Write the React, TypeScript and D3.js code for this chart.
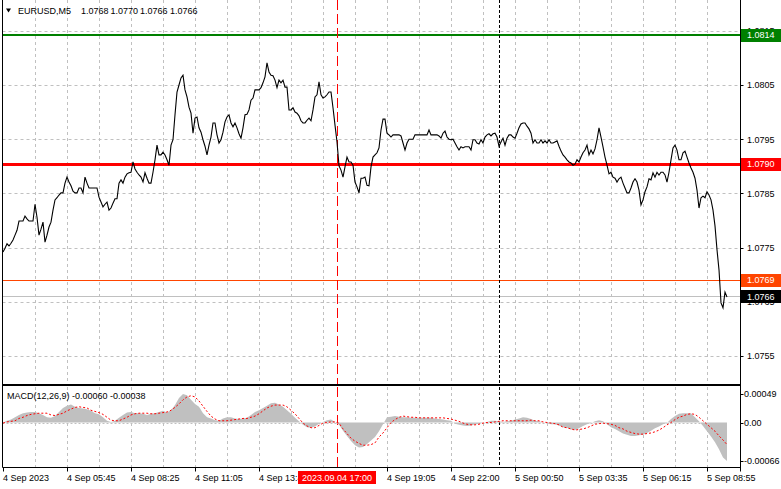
import React from "react";
import * as d3 from "d3";

// ---------- DATA ----------
const symbolTitle = "EURUSD,M5";
const headerOHLC = [1.0768, 1.077, 1.0766, 1.0766];

// close prices, one per M5 bar
const closes = [
  1.07742, 1.07749, 1.07757, 1.07753, 1.07758, 1.07764, 1.07773, 1.07782, 1.07799, 1.07799,
  1.07799, 1.07808, 1.07803, 1.07799, 1.07799, 1.07799, 1.0783, 1.07806, 1.07773, 1.07784,
  1.07797, 1.0776, 1.07773, 1.07788, 1.07797, 1.07819, 1.07838, 1.07842, 1.07847, 1.07851,
  1.07851, 1.07869, 1.0788, 1.07871, 1.07864, 1.07854, 1.07851, 1.07851, 1.0786, 1.0786,
  1.07851, 1.0788, 1.07869, 1.0786, 1.0786, 1.0786, 1.0786, 1.0786, 1.07843, 1.07834,
  1.07825, 1.0783, 1.07834, 1.07819, 1.07823, 1.07832, 1.0784, 1.0784, 1.07869, 1.07875,
  1.07869, 1.0788, 1.07886, 1.07888, 1.07889, 1.07908, 1.07895, 1.07889, 1.07884, 1.0788,
  1.07871, 1.07888, 1.07878, 1.07869, 1.07869, 1.07889, 1.07912, 1.07939, 1.07921, 1.07921,
  1.07926, 1.07921, 1.07912, 1.07902, 1.07939, 1.07949, 1.07995, 1.08037, 1.0805, 1.08063,
  1.08068, 1.08041, 1.08028, 1.08009, 1.07998, 1.07961, 1.07989, 1.07991, 1.07971, 1.07963,
  1.07949, 1.07937, 1.07921, 1.07939, 1.07954, 1.0798, 1.0798, 1.07958, 1.07943, 1.07949,
  1.07963, 1.07982, 1.07991, 1.07995, 1.0798, 1.07973, 1.0798, 1.07971, 1.0796, 1.07952,
  1.07971, 1.07995, 1.07996, 1.08004, 1.08022, 1.08026, 1.08041, 1.08041, 1.08041, 1.08045,
  1.08054, 1.08065, 1.08091, 1.08074, 1.08068, 1.08067, 1.08059, 1.08045, 1.08059, 1.08054,
  1.08059, 1.08046, 1.08046, 1.08004, 1.08004, 1.08008, 1.08, 1.07998, 1.07993, 1.07984,
  1.0798, 1.0798, 1.07985, 1.07989, 1.07984, 1.08004, 1.08028, 1.08032, 1.08056, 1.08032,
  1.08026, 1.08028, 1.08032, 1.08037, 1.08037, 1.08008, 1.07976, 1.07945, 1.07901, 1.07893,
  1.0788, 1.07899, 1.07917, 1.07908, 1.07908, 1.07902, 1.07871, 1.07862, 1.07851, 1.07878,
  1.07878, 1.0788, 1.07865, 1.07864, 1.07899, 1.07917, 1.07921, 1.07925, 1.07934, 1.07967,
  1.07987, 1.07987, 1.07961, 1.07958, 1.07954, 1.07958, 1.07958, 1.07958, 1.07958, 1.07956,
  1.07943, 1.0793, 1.07943, 1.0795, 1.0795, 1.0795, 1.07958, 1.07958, 1.07958, 1.07958,
  1.07958, 1.07958, 1.07958, 1.07967, 1.07958, 1.07958, 1.07958, 1.07958, 1.07956, 1.07952,
  1.07961, 1.07965, 1.07954, 1.0795, 1.07949, 1.0795, 1.07943, 1.07936, 1.0793, 1.07936,
  1.07934, 1.07936, 1.07936, 1.07936, 1.0793, 1.07949, 1.07949, 1.07943, 1.07941, 1.07949,
  1.07943, 1.07954, 1.07958, 1.0796, 1.07956, 1.0796, 1.07961, 1.07954, 1.07937, 1.07945,
  1.07952, 1.07939, 1.07952, 1.07958, 1.07958, 1.07954, 1.07952, 1.07961, 1.07971, 1.07978,
  1.0798, 1.0798, 1.07974, 1.07969, 1.07961, 1.07943, 1.07949, 1.07943, 1.07943, 1.07949,
  1.07943, 1.07947, 1.07943, 1.07949, 1.07943, 1.07943, 1.07945, 1.07947, 1.07937, 1.07928,
  1.07921, 1.07917, 1.07912, 1.07908, 1.07906, 1.07902, 1.07904, 1.07912, 1.07908, 1.07917,
  1.07925, 1.0793, 1.07939, 1.07921, 1.0793, 1.07923, 1.07932, 1.07949, 1.07971, 1.07954,
  1.07936, 1.07917, 1.07902, 1.07886, 1.07889, 1.0788, 1.07878, 1.07871, 1.07877, 1.0788,
  1.07869, 1.0786, 1.07851, 1.07851, 1.0786, 1.07871, 1.07877, 1.07871, 1.07856, 1.07829,
  1.07838, 1.07853, 1.07862, 1.07877, 1.07875, 1.07888, 1.0788, 1.07889, 1.07884, 1.07889,
  1.07889, 1.07884, 1.07871, 1.07889, 1.07912, 1.07934, 1.07939, 1.0793, 1.07912, 1.07912,
  1.07925, 1.07928, 1.07917, 1.07906, 1.07897, 1.07889, 1.07878, 1.07856, 1.07823, 1.07842,
  1.07845, 1.07842, 1.07853, 1.07847, 1.07838, 1.07819, 1.0779, 1.07746, 1.07709, 1.07648,
  1.07639, 1.07668, 1.07659,
];

// MACD(12,26,9), one value every 2 bars
const macdStep = 2;
const macdHist = [
  0.0, 0.00003, 0.00005, 0.00009, 0.00013, 0.00016, 0.00017, 0.00018, 0.00018, 0.00016,
  0.00013, 0.00009, 0.00008, 0.00011, 0.00018, 0.00025, 0.00029, 0.00031, 0.00027, 0.00025,
  0.00024, 0.00023, 0.0002, 0.00016, 0.00014, 0.00009, 0.00003, 0.00001, 0.00003, 0.00008,
  0.00013, 0.00017, 0.00018, 0.00016, 0.00016, 0.00015, 0.00013, 0.00015, 0.00016, 0.00018,
  0.0002, 0.00017, 0.00021, 0.0003, 0.00042, 0.00049, 0.00047, 0.00039, 0.00032, 0.00027,
  0.00016, 0.00009, 0.00007, 0.00004, 0.00003, 0.00007, 0.00009, 0.00009, 0.00007, 0.00006,
  0.00007, 0.00008, 0.00013, 0.00018, 0.00021, 0.00025, 0.00029, 0.00033, 0.00034, 0.00031,
  0.00027, 0.00021, 0.00015, 0.00008, 0.00002, -0.00004, -0.00008, -0.00009, -0.00007, -0.00002,
  0.00001, 0.00004, 0.00005, 0.00001, -0.00004, -0.00014, -0.00023, -0.00032, -0.00039, -0.00043,
  -0.00042, -0.00037, -0.00031, -0.00025, -0.00015, -0.00003, 0.00009, 0.0001, 0.00011, 0.0001,
  0.00009, 0.00009, 0.00008, 0.00008, 0.00008, 0.00008, 0.00008, 0.00008, 0.00007, 0.00006,
  0.00005, 0.00004, 0.00003, -0.00002, -0.00004, -0.00005, -0.00006, -0.00005, -0.00003, -0.00002,
  0.0, 0.00001, 0.00003, 0.00003, 0.00002, 0.00001, 0.00002, 0.00003, 0.00005, 0.00007,
  0.00009, 0.00008, 0.00006, 0.00003, 0.00002, 0.0, -0.00001, -0.00003, -0.00003, -0.00005,
  -0.00008, -0.00009, -0.00012, -0.00013, -0.0001, -0.00006, -0.00003, -0.00001, 0.00002, 0.00004,
  0.00002, -0.00003, -0.00008, -0.00011, -0.00015, -0.00019, -0.00021, -0.00023, -0.00023, -0.00022,
  -0.00021, -0.00018, -0.00014, -0.0001, -0.00007, -0.00003, -0.00001, 0.00006, 0.00011, 0.00015,
  0.00016, 0.00016, 0.00016, 0.00009, 0.00002, -0.00006, -0.00015, -0.00024, -0.00034, -0.00046,
  -0.0006, -0.00066,
];
const macdSignal = [
  -0.00001, 0.00001, 0.00002, 0.00003, 0.00007, 0.00009, 0.00012, 0.00014, 0.00015, 0.00016,
  0.00016, 0.00016, 0.00013, 0.00012, 0.00014, 0.00016, 0.0002, 0.00023, 0.00026, 0.00027,
  0.00026, 0.00025, 0.00021, 0.00019, 0.00017, 0.00014, 0.00009, 0.00004, 0.00003, 0.00003,
  0.00006, 0.00009, 0.00013, 0.00015, 0.00016, 0.00016, 0.00016, 0.00015, 0.00015, 0.00016,
  0.00017, 0.00018, 0.00021, 0.00026, 0.00032, 0.00039, 0.00044, 0.00046, 0.00044, 0.00037,
  0.00028, 0.00019, 0.00011, 0.00006, 0.00003, 0.00003, 0.00003, 0.00004, 0.00005, 0.00006,
  0.00007, 0.00007, 0.00009, 0.00011, 0.00015, 0.0002, 0.00025, 0.00028, 0.0003, 0.0003,
  0.0003, 0.00027, 0.00021, 0.00015, 0.00007, -0.00001, -0.00006, -0.00009, -0.00009, -0.00005,
  -0.00001, 0.0, 0.00001, 0.00001, -0.00001, -0.00011, -0.00019, -0.00027, -0.00032, -0.00036,
  -0.00039, -0.00039, -0.00038, -0.00035, -0.00025, -0.00018, -0.00009, 0.0, 0.00005, 0.00009,
  0.00011, 0.0001, 0.00009, 0.00009, 0.00008, 0.00008, 0.00008, 0.00008, 0.00008, 0.00008,
  0.00008, 0.00007, 0.00006, 0.00004, 0.00002, -0.00001, -0.00003, -0.00004, -0.00004, -0.00003,
  -0.00001, 0.0, 0.0, 0.00001, 0.00002, 0.00003, 0.00003, 0.00003, 0.00003, 0.00003,
  0.00003, 0.00003, 0.00004, 0.00003, 0.00003, 0.00001, 0.0, -0.00001, -0.00002, -0.00004,
  -0.00008, -0.00009, -0.00011, -0.00013, -0.00012, -0.00011, -0.00009, -0.00006, -0.00003, -0.00002,
  -0.00001, -0.00002, -0.00003, -0.00005, -0.00009, -0.00011, -0.00015, -0.00017, -0.00019, -0.0002,
  -0.0002, -0.00019, -0.00018, -0.00016, -0.00013, -0.00009, -0.00004, 0.0, 0.00005, 0.00009,
  0.00011, 0.00014, 0.00015, 0.00014, 0.00009, 0.00003, -0.00003, -0.00009, -0.00015, -0.00023,
  -0.0003, -0.00038,
];
const macdHeader = "MACD(12,26,9) -0.00060 -0.00038";

const priceTicks = [1.0755, 1.0765, 1.0775, 1.0785, 1.0795, 1.0805, 1.0815];
const macdTicks = [0.00049, 0, -0.00066];

const timeLabels = [
  "4 Sep 2023", "4 Sep 05:45", "4 Sep 08:25", "4 Sep 11:05", "4 Sep 13:45",
  "4 Sep 19:05", "4 Sep 22:00", "5 Sep 00:50", "5 Sep 03:35", "5 Sep 06:15", "5 Sep 08:55",
];
const timeLabelBars = [0, 32, 64, 96, 128, 192, 224, 256, 288, 320, 352];
const gridEveryBars = 16;

const levelValues = [1.08142, 1.07904, 1.0769];
const levelColors = ["#008000", "#ff0000", "#ff4500"];
const levelWidths = [2, 3, 1];
const bidPrice = 1.0766;

const markerBar = 167;
const markerLabel = "2023.09.04 17:00";
const separatorBar = 248;

// ---------- LAYOUT ----------
const W = 781;
const H = 489;
const LEFT = 2.5;
const AXIS_X = 740.5;
const MAIN_BOTTOM = 385;
const MACD_TOP = 386;
const MACD_BOTTOM = 467.5;
const FONT = "'Liberation Sans', Arial, sans-serif";
const FS = 9;
const HEADER_X = [18, 81, 110.5, 140, 170];

export default function App() {
  const x = d3.scaleLinear().domain([0, closes.length - 1]).range([3, 727]);
  const y = d3.scaleLinear().domain([1.0755, 1.0805]).range([356, 85]);
  const my = d3.scaleLinear().domain([-0.00066, 0.00049]).range([460.9, 394]);

  const pricePath = d3
    .line<number>()
    .x((_, i) => x(i))
    .y((d) => y(d))(closes) as string;

  const histPath = d3
    .area<number>()
    .x((_, k) => x(k * macdStep))
    .y0(my(0))
    .y1((d) => my(d))(macdHist) as string;

  const sigPath = d3
    .line<number>()
    .x((_, k) => x(k * macdStep))
    .y((d) => my(d))(macdSignal) as string;

  const gridBars: number[] = [];
  for (let b = gridEveryBars; x(b) < AXIS_X - 2; b += gridEveryBars) gridBars.push(b);

  const px = (v: number) => Math.round(v) + 0.5;
  const lvY = (v: number, w: number) => (w % 2 === 1 ? px(y(v)) : Math.round(y(v)));
  const grid = "#c0c0c0";
  const headerTokens = [symbolTitle, ...headerOHLC.map((v) => v.toFixed(4))];

  return (
    <svg
      width={W}
      height={H}
      style={{ position: "absolute", left: 0, top: 0, background: "#fff" }}
      fontFamily={FONT}
      fontSize={FS}
    >
      <rect x={0} y={0} width={W} height={H} fill="#fff" />
      {/* vertical grid */}
      {gridBars.map((b) => (
        <g key={"vg" + b}>
          <line x1={px(x(b))} x2={px(x(b))} y1={0} y2={MAIN_BOTTOM - 1} stroke={grid} strokeDasharray="3,3" />
          <line x1={px(x(b))} x2={px(x(b))} y1={MACD_TOP + 1} y2={MACD_BOTTOM - 0.5} stroke={grid} strokeDasharray="3,3" />
        </g>
      ))}
      {/* horizontal grid */}
      {priceTicks.map((t) => (
        <line key={"hg" + t} x1={LEFT} x2={AXIS_X} y1={px(y(t))} y2={px(y(t))} stroke={grid} strokeDasharray="3,3" />
      ))}
      {/* MACD zero level */}
      <line x1={LEFT} x2={x(closes.length - 1)} y1={px(my(0))} y2={px(my(0))} stroke={grid} strokeDasharray="2,2" />

      {/* level lines */}
      <line x1={LEFT} x2={AXIS_X} y1={px(y(bidPrice))} y2={px(y(bidPrice))} stroke="#c0c0c0" strokeWidth={1} />
      {levelValues.map((v, i) => (
        <line key={"lv" + i} x1={LEFT} x2={AXIS_X} y1={lvY(v, levelWidths[i])} y2={lvY(v, levelWidths[i])} stroke={levelColors[i]} strokeWidth={levelWidths[i]} />
      ))}

      {/* vertical markers */}
      <line x1={px(x(markerBar))} x2={px(x(markerBar))} y1={0} y2={MAIN_BOTTOM - 1} stroke="#ff0000" strokeDasharray="10,4" />
      <line x1={px(x(markerBar))} x2={px(x(markerBar))} y1={MACD_TOP + 1} y2={MACD_BOTTOM} stroke="#ff0000" strokeDasharray="10,4" />
      <line x1={px(x(separatorBar))} x2={px(x(separatorBar))} y1={0} y2={MAIN_BOTTOM - 1} stroke="#000" strokeDasharray="3,2" />
      <line x1={px(x(separatorBar))} x2={px(x(separatorBar))} y1={MACD_TOP + 1} y2={MACD_BOTTOM} stroke="#000" strokeDasharray="3,2" />

      {/* MACD */}
      <path d={histPath} fill="#c0c0c0" stroke="none" />
      <path d={sigPath} fill="none" stroke="#ff0000" strokeWidth={1} strokeDasharray="2,2" />

      {/* price line */}
      <path d={pricePath} fill="none" stroke="#000" strokeWidth={1.1} />

      {/* borders */}
      <line x1={LEFT} x2={LEFT} y1={0} y2={MACD_BOTTOM} stroke="#000" />
      <line x1={AXIS_X} x2={AXIS_X} y1={0} y2={MACD_BOTTOM + 4} stroke="#000" />
      <line x1={LEFT} x2={AXIS_X} y1={MAIN_BOTTOM} y2={MAIN_BOTTOM} stroke="#000" strokeWidth={2} />
      <line x1={LEFT} x2={AXIS_X} y1={MACD_BOTTOM} y2={MACD_BOTTOM} stroke="#000" />

      {/* price axis */}
      {priceTicks.map((t) => (
        <g key={"pt" + t}>
          <line x1={AXIS_X} x2={AXIS_X + 3} y1={px(y(t))} y2={px(y(t))} stroke="#000" />
          <text x={747} y={y(t) + 3.3} fill="#000">{t.toFixed(4)}</text>
        </g>
      ))}
      {levelValues.map((v, i) => (
        <g key={"lb" + i}>
          <rect x={741} y={Math.round(y(v)) - 6} width={40} height={13} fill={levelColors[i]} />
          <text x={747} y={y(v) + 3.3} fill="#fff">{v.toFixed(4)}</text>
        </g>
      ))}
      <rect x={741} y={Math.round(y(bidPrice)) - 6} width={40} height={13} fill="#000" />
      <text x={747} y={y(bidPrice) + 3.3} fill="#fff">{bidPrice.toFixed(4)}</text>

      {/* MACD axis */}
      {macdTicks.map((t) => (
        <g key={"mt" + t}>
          <line x1={AXIS_X} x2={AXIS_X + 3} y1={px(my(t))} y2={px(my(t))} stroke="#000" />
          <text x={744} y={my(t) + 3.3} fill="#000">{t === 0 ? "0.00" : t.toFixed(5)}</text>
        </g>
      ))}

      {/* time axis */}
      {timeLabelBars.map((b, i) => (
        <g key={"tl" + b}>
          <line x1={px(x(b))} x2={px(x(b))} y1={MACD_BOTTOM} y2={MACD_BOTTOM + 4} stroke="#000" />
          <text x={x(b)} y={481} fill="#000">{timeLabels[i]}</text>
        </g>
      ))}
      <rect x={x(markerBar) - 39} y={471} width={78} height={13} fill="#ff0000" />
      <text x={x(markerBar)} y={481} fill="#fff" textAnchor="middle">{markerLabel}</text>

      {/* headers */}
      <path d="M6,8.5 L11,8.5 L8.5,12.5 Z" fill="#000" />
      {headerTokens.map((t, i) => (
        <text key={"hd" + i} x={HEADER_X[i]} y={14} fill="#000">{t}</text>
      ))}
      <text x={7} y={399} fill="#000">{macdHeader}</text>
    </svg>
  );
}
